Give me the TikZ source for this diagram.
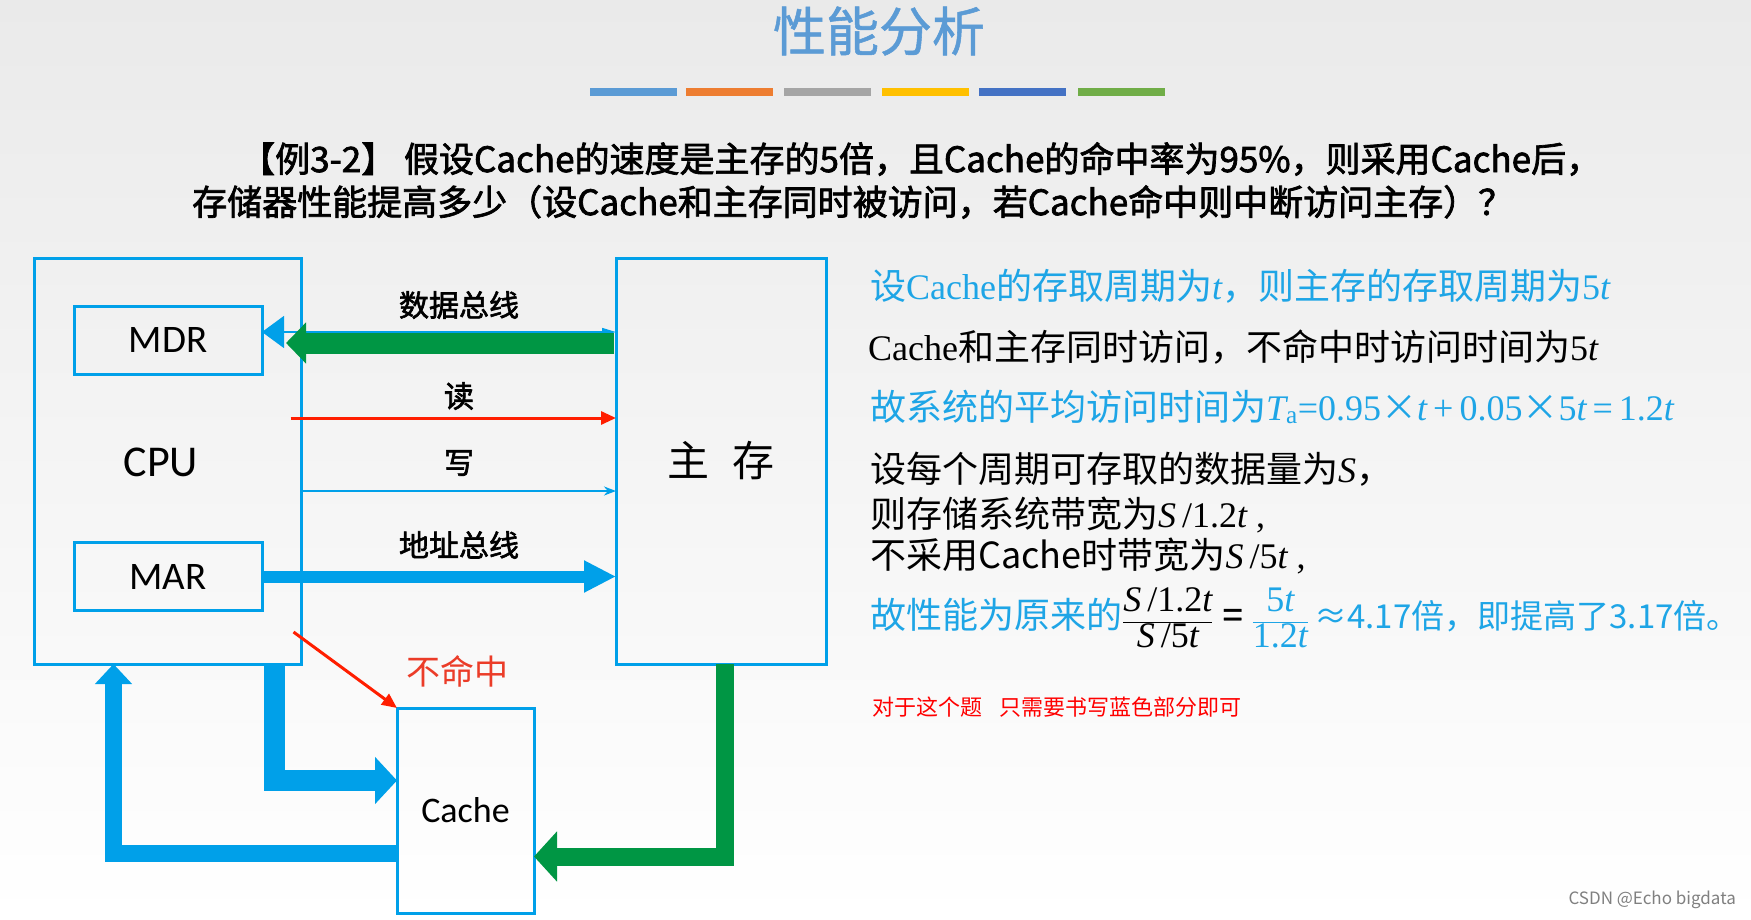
\documentclass[tikz,border=0pt]{standalone}
\usepackage{fontspec}
\setmainfont{Noto Sans CJK SC}
\newfontfamily\ser{Liberation Serif}
\newfontfamily\carl{Carlito}
\newfontfamily\cjkb[FakeBold=2]{Noto Sans CJK SC}
\newfontfamily\cjkt[FakeBold=1]{Noto Sans CJK SC}
\usetikzlibrary{arrows.meta,calc}
\definecolor{bxblue}{RGB}{0,160,233}
\definecolor{grn}{RGB}{0,150,68}
\definecolor{rd}{RGB}{255,30,0}
\definecolor{txtblue}{RGB}{30,165,230}
\definecolor{ttl}{RGB}{91,155,213}
\definecolor{nm}{RGB}{235,60,40}
\definecolor{bgtop}{RGB}{234,234,234}
\definecolor{cA}{RGB}{91,155,213}
\definecolor{cB}{RGB}{237,125,49}
\definecolor{cC}{RGB}{165,165,165}
\definecolor{cD}{RGB}{255,192,0}
\definecolor{cE}{RGB}{68,114,196}
\definecolor{cF}{RGB}{112,173,71}
\begin{document}
\begin{tikzpicture}[x=1pt,y=-1pt,
  box/.style={draw=bxblue, line width=3pt, inner sep=0pt, outer sep=0pt},
  reg/.style={box, minimum width=188pt, minimum height=68pt, font=\carl\fontsize{39}{39}\selectfont},
  lbl/.style={inner sep=0pt, font=\cjkb\fontsize{30}{30}\selectfont},
  qt/.style={anchor=west, inner sep=0pt, font=\cjkb\fontsize{35}{35}\selectfont},
  rt/.style={anchor=base west, inner sep=0pt, font=\fontsize{36}{36}\selectfont},
  fatblue/.style={draw=bxblue, line width=21pt, line join=miter, -{Triangle[length=22pt,width=46pt]}},
  fatblueb/.style={draw=bxblue, line width=17pt, line join=miter, -{Triangle[length=20pt,width=36pt]}},
  fatgreen/.style={draw=grn, line width=18pt, line join=miter, -{Triangle[length=23pt,width=49pt]}},
]
\useasboundingbox (0,0) rectangle (1751,920);
\shade[top color=bgtop, bottom color=white] (0,0) rectangle (1751,920);

% title
\node[inner sep=0pt, text=ttl, font=\cjkt\fontsize{53}{53}\selectfont] (title) at (879,31) {性能分析};
\foreach \x/\c in {590/cA,686/cB,784/cC,882/cD,979/cE,1078/cF}
  \fill[\c] (\x,88) rectangle ++(87,8);

% question
\node[qt] (q1) at (240,159) {【例3-2】 假设Cache的速度是主存的5倍，且Cache的命中率为95\%，则采用Cache后，};
\node[qt] (q2) at (192,202) {存储器性能提高多少（设Cache和主存同时被访问，若Cache命中则中断访问主存）？};

% boxes
\node[box, minimum width=267pt, minimum height=406pt] (cpu) at (168,461) {};
\node[inner sep=0pt, font=\carl\fontsize{44}{44}\selectfont] (cpulbl) at (161,462) {CPU};
\node[reg] (mdr) at (168,340) {MDR};
\node[reg] (mar) at (168,576.5) {MAR};
\node[box, minimum width=210pt, minimum height=406pt, font=\fontsize{42}{42}\selectfont] (mem) at (721,461) {主\hspace{0.55em}存};
\node[box, minimum width=137pt, minimum height=205pt, font=\carl\fontsize{36}{36}\selectfont] (cache) at (465.5,810.5) {Cache};

% buses
\draw[bxblue, line width=1.5pt, {Triangle[length=22pt,width=32pt]}-{Triangle[length=14pt,width=8pt]}]
  ($(mdr.east)+(0,-8)$) -- ($(mdr.east -| mem.west)+(0,-8)$);
\draw[grn, line width=21pt, -{Triangle[length=20pt,width=40pt]}]
  ($(mdr.east -| mem.west)+(-2,3)$) -- ($(mdr.east)+(24,3)$);
\draw[rd, line width=3pt, -{Triangle[length=15pt,width=13pt]}]
  ($(cpu.east)+(-11,-43)$) -- ($(cpu.east -| mem.west)+(0,-43)$);
\draw[bxblue, line width=2pt, -{Stealth[length=12pt,width=9pt]}]
  ($(cpu.east)+(0,30)$) -- ($(cpu.east -| mem.west)+(0,30)$);
\draw[bxblue, line width=12pt, -{Triangle[length=32pt,width=30pt]}]
  (mar.east) -- (mar.east -| mem.west);

\node[lbl] (lab1) at (459,305) {数据总线};
\node[lbl] (lab2) at (459,396) {读};
\node[lbl] (lab3) at (459,463) {写};
\node[lbl] (lab4) at (459,545) {地址总线};

% cache paths
\draw[rd, line width=3pt, -{Triangle[length=15pt,width=13pt]}]
  ($(cpu.south east)+(-8,-32)$) -- (cache.north west);
\node[inner sep=0pt, text=nm, font=\fontsize{34}{34}\selectfont] (miss) at (457,671) {不命中};
\draw[fatblue] ($(cpu.south west)+(240,0)$) |- ($(cache.west)+(0,-30)$);
\draw[fatblueb] ($(cache.west)+(0,43)$) -| ($(cpu.south west)+(79,0)$);
\draw[fatgreen] ($(mem.south)+(4,0)$) |- ($(cache.east)+(0,46)$);

% right text
\node[rt, text=txtblue] (l1) at (870,299) {设{\ser Cache}的存取周期为{\ser\itshape t}，则主存的存取周期为{\ser 5\itshape t}};
\node[rt] (l2) at (868,360) {{\ser Cache}和主存同时访问，不命中时访问时间为{\ser 5\itshape t}};
\node[rt, text=txtblue] (l3) at (870,420) {故系统的平均访问时间为{\ser\itshape T}{\ser\textsubscript{a}}{\ser =0.95}×{\ser\itshape t}{\ser\,+\,0.05}×{\ser 5\itshape t\upshape\,=\,1.2\itshape t}};
\node[rt] (l4) at (870,482) {设每个周期可存取的数据量为{\ser\itshape S}，};
\node[rt] (l5) at (870,527) {则存储系统带宽为{\ser\itshape S\upshape\,/1.2\itshape t\upshape\ ,}};
\node[rt] (l6) at (870,568) {不采用Cache时带宽为{\ser\itshape S\upshape\,/5\itshape t\upshape\ ,}};
\node[rt] (l7) at (870,628) {\color{txtblue}故性能为原来的\color{black}$\displaystyle\frac{\mbox{\ser\itshape S\upshape\,/1.2\itshape t}}{\mbox{\ser\itshape S\upshape\,/5\itshape t}}$\hspace{0.25em}{\cjkt =}\hspace{0.25em}\color{txtblue}$\displaystyle\frac{\mbox{\ser 5\itshape t}}{\mbox{\ser 1.2\itshape t}}$\hspace{0.15em}{\fontsize{33}{33}\selectfont ≈4.17倍，即提高了3.17倍。}};

\node[anchor=base west, inner sep=0pt, text=red, font=\fontsize{22}{22}\selectfont] (note) at (872,715) {对于这个题\hspace{0.8em}只需要书写蓝色部分即可};
\node[anchor=east, inner sep=0pt, text=black!50, font=\fontsize{17}{17}\selectfont] (wm) at (1736,900) {CSDN @Echo bigdata};
\end{tikzpicture}
\end{document}
